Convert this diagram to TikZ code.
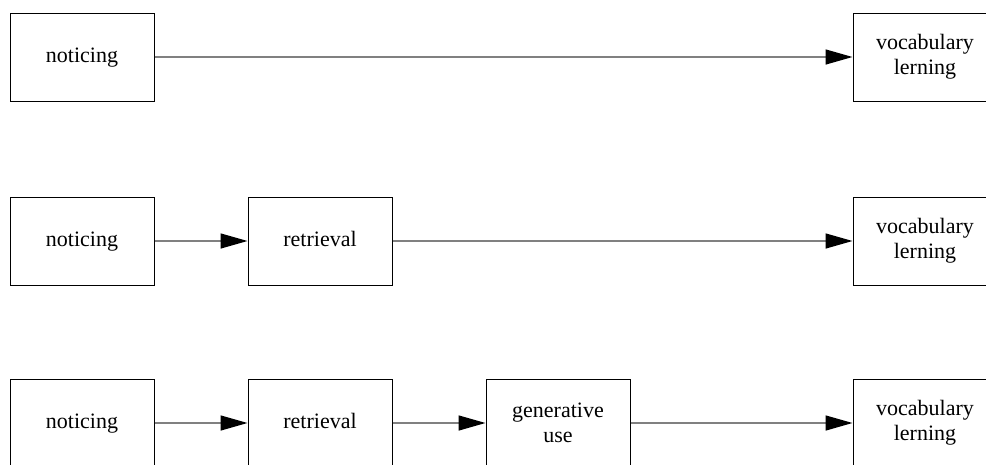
\documentclass[tikz,border=0pt]{standalone}
\usepackage{fontspec}
\setmainfont{Liberation Serif}
\usetikzlibrary{arrows.meta}

\tikzset{
  stagebox/.style={draw=black, line width=1pt, minimum width=144pt, minimum height=88pt,
    align=center, font=\fontsize{22}{25}\selectfont, inner sep=0pt},
  flow/.style={draw=black!50, line width=1.5pt,
    -{Triangle[length=27pt,width=15pt,color=black]}}
}

\begin{document}
\begin{tikzpicture}[x=1pt,y=-1pt]
    % Fix the page to the reference size
    \clip (0,0) rectangle (986,464);
    \useasboundingbox (0,0) rectangle (986,464);

    % First row
    \node[stagebox] (notice1) at (82,57) {\strut noticing};
    \node[stagebox] (vocab1) at (925,57) {vocabulary\\lerning};
    \draw[flow] (notice1) -- (vocab1);

    % Second row
    \node[stagebox] (notice2) at (82,241) {\strut noticing};
    \node[stagebox] (retrieve2) at (320,241) {\strut retrieval};
    \node[stagebox] (vocab2) at (925,241) {vocabulary\\lerning};
    \draw[flow] (notice2) -- (retrieve2);
    \draw[flow] (retrieve2) -- (vocab2);

    % Third row
    \node[stagebox] (notice3) at (82,423) {\strut noticing};
    \node[stagebox] (retrieve3) at (320,423) {\strut retrieval};
    \node[stagebox] (generate3) at (558,423) {generative\\use};
    \node[stagebox] (vocab3) at (925,423) {vocabulary\\lerning};
    \draw[flow] (notice3) -- (retrieve3);
    \draw[flow] (retrieve3) -- (generate3);
    \draw[flow] (generate3) -- (vocab3);

\end{tikzpicture}
\end{document}
